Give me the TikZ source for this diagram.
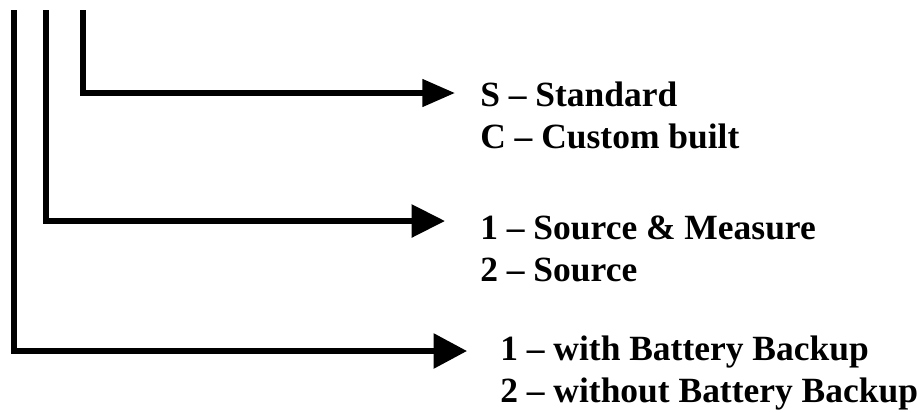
\documentclass[tikz,border=0pt]{standalone}
\usepackage{fontspec}
\setmainfont{Liberation Serif}
\usetikzlibrary{arrows.meta}
\begin{document}
\begin{tikzpicture}[x=0.75pt,y=-0.75pt,
  conn/.style={line width=4.2pt,line join=miter,line cap=butt},
  lab/.style={inner sep=0pt,anchor=base west,align=left,
    font=\fontsize{26.6}{31.5}\selectfont\bfseries}]
\useasboundingbox (0,0) rectangle (923,412);
% top ends and arrow tips
\coordinate (t3) at (83,10);
\coordinate (t2) at (46,10);
\coordinate (t1) at (14,10);
\coordinate (e3) at (455,93);
\coordinate (e2) at (445,221);
\coordinate (e1) at (467,351);
% labels (anchor is the baseline of the second line)
\node[lab] (l3) at (480,148) {S -- Standard\\C -- Custom built};
\node[lab] (l2) at (480,281) {1 -- Source \& Measure\\2 -- Source};
\node[lab] (l1) at (500,402) {1 -- with Battery Backup\\2 -- without Battery Backup};
% connectors
\draw[conn,-{Triangle[length=24.5pt,width=20pt]}] (t3) |- (e3);
\draw[conn,-{Triangle[length=25pt,width=24pt]}] (t2) |- (e2);
\draw[conn,-{Triangle[length=25pt,width=25.5pt]}] (t1) |- (e1);
\end{tikzpicture}
\end{document}
